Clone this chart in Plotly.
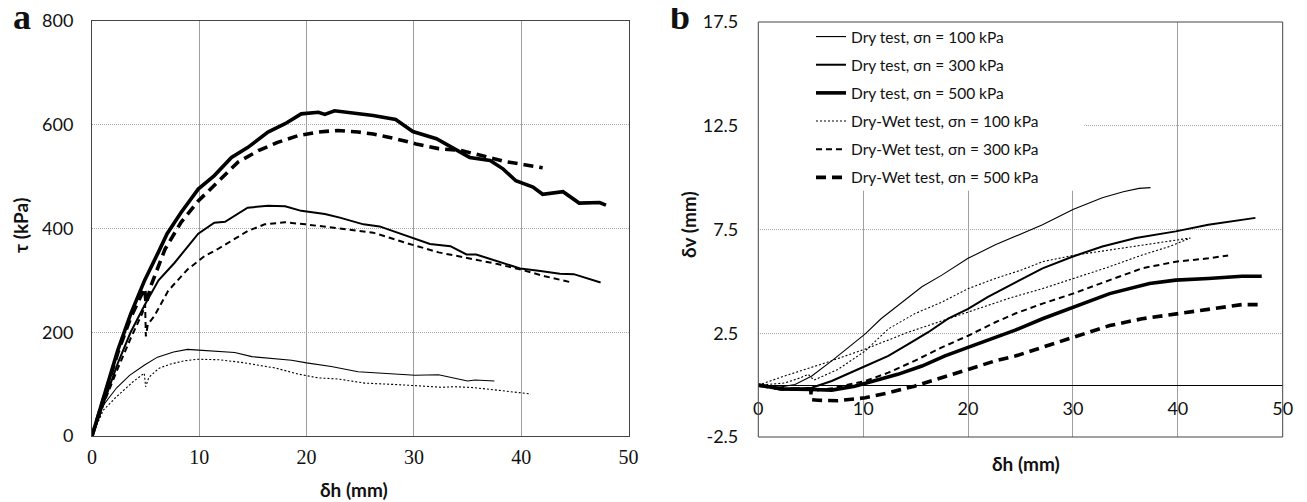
import plotly.graph_objects as go

# ---------------- Panel a: shear stress vs horizontal displacement ----------------
a_dry100_x = [0, 1.0, 2.3, 3.5, 4.9, 6.1, 7.6, 8.9, 9.6, 11.8, 13.3, 14.9, 17.1, 18.6, 20.0, 22.3, 24.8, 27.3, 30.1, 32.3, 33.8, 35.0, 35.7, 37.5]
a_dry100_y = [0, 58, 93, 117, 137, 152, 162, 167, 166, 163, 161, 153, 148, 146, 141, 134, 124, 121, 117, 118, 111, 106, 108, 106]

a_dry300_x = [0, 1.2, 2.4, 3.6, 4.9, 6.2, 7.7, 9.9, 11.4, 12.4, 14.5, 16.4, 18.0, 19.5, 21.7, 23.1, 25.3, 26.8, 29.3, 31.5, 33.4, 34.9, 35.8, 37.7, 39.9, 41.8, 43.6, 44.9, 45.5, 47.4]
a_dry300_y = [0, 72, 140, 200, 252, 300, 334, 390, 411, 413, 440, 444, 443, 434, 428, 421, 408, 404, 386, 370, 366, 350, 350, 337, 323, 318, 313, 312, 308, 296]

a_dry500_x = [0, 1.2, 2.4, 3.6, 4.9, 6.2, 7.0, 8.3, 9.9, 11.4, 13.0, 14.5, 16.4, 18.0, 19.5, 21.1, 21.7, 22.6, 24.2, 26.2, 28.3, 29.9, 32.1, 33.9, 35.2, 37.1, 38.3, 39.5, 41.1, 42.0, 43.9, 45.4, 47.3, 47.9]
a_dry500_y = [0, 80, 165, 235, 300, 355, 390, 431, 476, 502, 537, 556, 586, 602, 621, 624, 620, 627, 623, 618, 610, 587, 573, 553, 537, 531, 515, 492, 480, 466, 471, 449, 450, 445]

a_dw100_x = [0, 1.06, 2.3, 3.85, 4.87, 5.0, 5.3, 6.2, 7.2, 8.6, 9.9, 11.8, 13.9, 17.1, 19.3, 21.1, 22.9, 25.4, 28.5, 30.1, 32.6, 33.8, 35.4, 37.5, 39.7, 40.9]
a_dw100_y = [0, 50, 76, 105, 121, 95, 113, 130, 138, 145, 148, 147, 142, 131, 119, 112, 110, 102, 99, 97, 94, 95, 93.5, 89, 83, 81]

a_dw300_x = [0, 1.2, 2.4, 3.6, 4.7, 4.95, 5.02, 5.2, 5.8, 7.1, 8.9, 9.9, 10.5, 11.7, 13.6, 14.5, 16.1, 18.0, 19.9, 22.3, 23.1, 26.2, 29.3, 32.3, 35.5, 37.9, 40.1, 42.2, 44.7]
a_dw300_y = [0, 68, 130, 188, 237, 254, 192, 215, 231, 280, 321, 337, 347, 360, 383, 395, 408, 412, 408, 402, 400, 392, 372, 354, 341, 331, 320, 308, 296]

a_dw500_x = [0, 1.2, 2.4, 3.6, 4.9, 5.05, 5.5, 6.8, 8.3, 9.9, 11.7, 13.6, 15.5, 17.3, 19.2, 21.1, 22.9, 24.8, 26.2, 28.3, 30.2, 32.3, 34.5, 36.3, 38.5, 40.3, 42.0]
a_dw500_y = [0, 78, 160, 228, 285, 255, 290, 360, 412, 453, 489, 528, 550, 566, 579, 586, 589, 586, 582, 573, 563, 554, 550, 541, 529, 523, 517]

# ---------------- Panel b: vertical vs horizontal displacement ----------------
b_dry100_x = [0, 1.6, 3.5, 5.1, 7.0, 8.6, 10.2, 11.7, 13.7, 15.6, 17.5, 20.0, 22.6, 25.1, 27.1, 30.0, 32.8, 34.8, 36.3, 37.4]
b_dry100_y = [0, -0.13, 0.03, 0.44, 1.17, 1.82, 2.47, 3.2, 4.0, 4.74, 5.3, 6.11, 6.76, 7.3, 7.73, 8.46, 9.03, 9.32, 9.48, 9.52]

b_dry300_x = [0, 2.5, 5.1, 7.0, 9.9, 12.4, 14.3, 16.2, 18.1, 20.0, 21.9, 23.8, 27.1, 30.0, 32.8, 36.0, 39.8, 42.9, 46.1, 47.4]
b_dry300_y = [0, -0.21, -0.13, 0.2, 0.85, 1.41, 1.98, 2.55, 3.2, 3.68, 4.25, 4.75, 5.63, 6.2, 6.68, 7.09, 7.41, 7.73, 7.98, 8.06]

b_dry500_x = [0, 2.2, 5.1, 7.0, 9.2, 11.1, 13.3, 15.6, 17.8, 20.0, 22.5, 24.5, 27.1, 30.0, 33.5, 37.3, 39.8, 42.9, 46.1, 48.0]
b_dry500_y = [0, -0.18, -0.21, -0.24, -0.05, 0.2, 0.52, 0.92, 1.41, 1.82, 2.3, 2.65, 3.2, 3.76, 4.41, 4.9, 5.06, 5.14, 5.25, 5.25]

b_dw100_x = [0, 2.5, 4.0, 4.76, 5.3, 6.0, 7.6, 10.2, 12.4, 14.9, 17.5, 20.0, 22.6, 25.1, 27.1, 30.0, 33.5, 36.6, 41.2,
             39.2, 36.6, 33.5, 30.0, 27.1, 24.0, 20.0, 17.5, 14.3, 10.2, 6.5, 2.5, 0]
b_dw100_y = [0, 0.1, 0.35, 0.52, 0.24, 0.4, 0.76, 1.65, 2.71, 3.44, 4.0, 4.65, 5.14, 5.55, 5.95, 6.25, 6.52, 6.76, 7.09,
             6.68, 6.27, 5.71, 5.14, 4.65, 4.2, 3.52, 3.11, 2.55, 1.74, 1.09, 0.44, 0]

b_dw300_x = [0, 2.5, 5.0, 5.1, 7.0, 8.5, 10.2, 12.4, 14.9, 17.5, 20.0, 22.6, 24.5, 27.1, 30.0, 33.5, 36.6, 39.8, 42.9, 44.8]
b_dw300_y = [0, -0.18, -0.22, -0.3, -0.15, 0.0, 0.2, 0.6, 1.17, 1.82, 2.38, 3.03, 3.45, 3.93, 4.41, 5.06, 5.63, 5.95, 6.11, 6.25]

b_dw500_x = [0, 2.2, 5.0, 5.05, 5.7, 7.6, 10.2, 12.4, 14.9, 17.5, 20.0, 22.6, 24.5, 27.1, 30.0, 33.5, 36.6, 39.8, 42.9, 46.1, 48.0]
b_dw500_y = [0, -0.18, -0.2, -0.7, -0.73, -0.75, -0.61, -0.37, -0.05, 0.36, 0.76, 1.17, 1.4, 1.82, 2.3, 2.87, 3.2, 3.44, 3.68, 3.88, 3.88]

series_names = ["Dry test, σn = 100 kPa", "Dry test, σn = 300 kPa", "Dry test, σn = 500 kPa",
                "Dry-Wet test, σn = 100 kPa", "Dry-Wet test, σn = 300 kPa", "Dry-Wet test, σn = 500 kPa"]

a_x_ticks = [0, 10, 20, 30, 40, 50]
a_y_ticks = [0, 200, 400, 600, 800]
b_x_ticks = [0, 10, 20, 30, 40, 50]
b_y_ticks = [-2.5, 2.5, 7.5, 12.5, 17.5]
b_y_ticktext = ["-2.5", "2.5", "7.5", "12.5", "17.5"]

styles = [
    dict(color="#000", width=1.1, dash="solid"),
    dict(color="#000", width=2.0, dash="solid"),
    dict(color="#000", width=3.6, dash="solid"),
    dict(color="#000", width=1.1, dash="2px,2px"),
    dict(color="#000", width=2.0, dash="6px,4px"),
    dict(color="#000", width=3.6, dash="10px,6px"),
]

a_data = [(a_dry100_x, a_dry100_y), (a_dry300_x, a_dry300_y), (a_dry500_x, a_dry500_y),
          (a_dw100_x, a_dw100_y), (a_dw300_x, a_dw300_y), (a_dw500_x, a_dw500_y)]
b_data = [(b_dry100_x, b_dry100_y), (b_dry300_x, b_dry300_y), (b_dry500_x, b_dry500_y),
          (b_dw100_x, b_dw100_y), (b_dw300_x, b_dw300_y), (b_dw500_x, b_dw500_y)]

fig = go.Figure()
for i, (xs, ys) in enumerate(a_data):
    fig.add_trace(go.Scatter(x=xs, y=ys, mode="lines", line=styles[i], showlegend=False,
                             xaxis="x", yaxis="y", name=series_names[i]))
for i, (xs, ys) in enumerate(b_data):
    fig.add_trace(go.Scatter(x=xs, y=ys, mode="lines", line=styles[i], showlegend=True,
                             legendgroup=f"g{i}", xaxis="x2", yaxis="y2", name=series_names[i]))

# The page body has an 8px margin, so the figure is drawn from (8, 8) in the window;
# it is sized to reach the window's right and bottom edges.
OFF = 8
W, H = 1307 - OFF, 502 - OFF


def fx(px):
    return (px - OFF) / W


def fy(py):
    return 1 - (py - OFF) / H


serif = "Liberation Serif"
sans = "Lato"


def label(text, x, y, size, family, angle=0):
    return dict(text=text, x=fx(x), y=fy(y), xref="paper", yref="paper", showarrow=False,
                xanchor="center", yanchor="middle", textangle=angle,
                font=dict(family=family, size=size, color="#111"))


fig.update_layout(
    width=W, height=H,
    margin=dict(l=0, r=0, t=0, b=0, autoexpand=False),
    paper_bgcolor="white", plot_bgcolor="white",
    xaxis=dict(domain=[fx(92), fx(628.5)], range=[0, 50], tickvals=a_x_ticks,
               showgrid=True, gridcolor="#a0a0a0", gridwidth=1,
               showline=True, mirror=True, linecolor="#444", linewidth=1,
               ticks="", zeroline=False, tickfont=dict(family=serif, size=20, color="#111"),
               ticklabelstandoff=3, anchor="y", automargin=False),
    yaxis=dict(domain=[fy(436), fy(21)], range=[0, 800], tickvals=a_y_ticks,
               showgrid=True, gridcolor="#aaaaaa", griddash="1px,1px", gridwidth=1,
               showline=True, mirror=True, linecolor="#444", linewidth=1,
               ticks="", zeroline=False, tickfont=dict(family=sans, size=18, color="#111"),
               ticklabelstandoff=14, anchor="x", automargin=False),
    xaxis2=dict(domain=[fx(758.3), fx(1282.7)], range=[0, 50], tickvals=b_x_ticks,
                showgrid=True, gridcolor="#a0a0a0", gridwidth=1,
                showline=False, ticks="", zeroline=False,
                tickfont=dict(family=sans, size=18, color="#111"),
                anchor="free", position=fy(385.7), ticklabelstandoff=10, automargin=False),
    yaxis2=dict(domain=[fy(437), fy(22)], range=[-2.5, 17.5], tickvals=b_y_ticks,
                ticktext=b_y_ticktext,
                showgrid=True, gridcolor="#aaaaaa", griddash="1px,1px", gridwidth=1,
                showline=False, ticks="", zeroline=True, zerolinecolor="#000", zerolinewidth=1.3,
                tickfont=dict(family=sans, size=18, color="#111"),
                ticklabelstandoff=19, anchor="x2", automargin=False),
    legend=dict(x=fx(811), y=fy(20), xanchor="left", yanchor="top",
                bgcolor="rgba(255,255,255,0)", borderwidth=0,
                font=dict(family=sans, size=15.5, color="#111"),
                traceorder="grouped", tracegroupgap=5),
    shapes=[
        dict(type="rect", xref="x2", yref="y2", x0=0, x1=31.1, y0=9.37, y1=17.5,
             fillcolor="white", line=dict(width=0), layer="between"),
        dict(type="rect", xref="x2 domain", yref="y2 domain", x0=0, x1=1, y0=0, y1=1,
             line=dict(color="#444", width=1), fillcolor="rgba(0,0,0,0)", layer="above"),
    ],
    annotations=[
        label("<b>a</b>", 22, 17, 36, serif),
        label("<b>b</b>", 680, 17, 36, serif),
        label("<b>δh (mm)</b>", 354, 489, 19, sans),
        label("<b>τ (kPa)</b>", 20, 226, 19, sans, -90),
        label("<b>δh (mm)</b>", 1026, 463, 19, sans),
        label("<b>δv (mm)</b>", 688, 225, 19, sans, -90),
    ],
)

fig.write_html("out.html")
